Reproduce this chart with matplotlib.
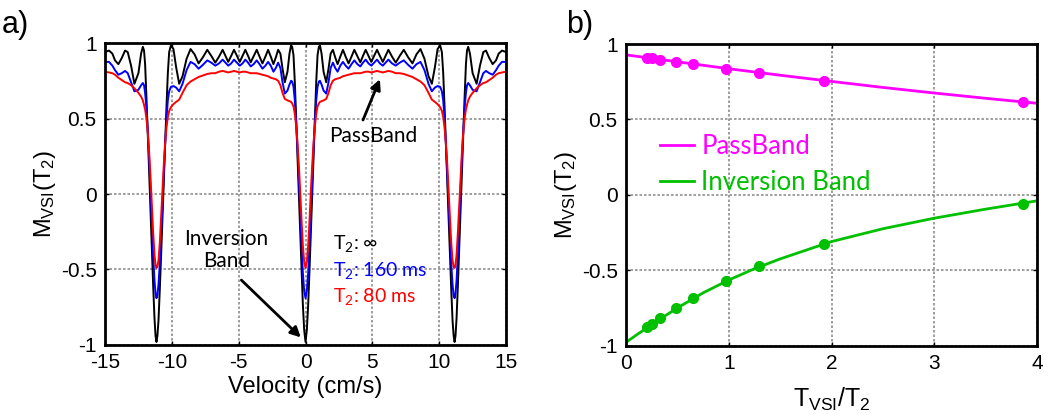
import numpy as np
import matplotlib
matplotlib.use("Agg")
import matplotlib.pyplot as plt

plt.rcParams['font.family'] = ['Liberation Sans', 'DejaVu Sans']
plt.rcParams['mathtext.default'] = 'regular'

# ---- panel a: velocity profiles (values for v >= 0, profile is even in v)
vel_half = [0.00, 0.10, 0.20, 0.30, 0.40, 0.50, 0.60, 0.70, 0.80, 0.90,
            1.00, 1.08, 1.20, 1.35, 1.55, 1.72, 1.88, 2.05, 2.22, 2.40,
            2.60, 2.80, 3.00, 3.22, 3.44, 3.65, 3.88, 4.10, 4.30, 4.50,
            4.71, 4.92, 5.13, 5.35, 5.56, 5.78, 5.99, 6.20, 6.47, 6.75,
            7.05, 7.35, 7.68, 8.00, 8.30, 8.60, 8.90, 9.20, 9.45, 9.68,
            9.88, 10.07, 10.20, 10.30, 10.40, 10.50, 10.60, 10.70, 10.80, 10.90,
            11.00, 11.08, 11.15, 11.22, 11.30, 11.40, 11.50, 11.60, 11.70, 11.80,
            11.90, 12.00, 12.08, 12.17, 12.30, 12.50, 12.80, 13.05, 13.30, 13.50,
            13.75, 14.00, 14.25, 14.45, 14.70, 15.00]

m_inf = [-0.98, -0.90, -0.73, -0.50, -0.25, 0.00, 0.24, 0.50, 0.74, 0.92,
         0.975, 0.985, 0.93, 0.81, 0.74, 0.83, 0.93, 0.955, 0.905, 0.86,
         0.91, 0.955, 0.91, 0.865, 0.91, 0.955, 0.912, 0.872, 0.915, 0.955,
         0.915, 0.875, 0.915, 0.955, 0.915, 0.875, 0.915, 0.955, 0.91, 0.87,
         0.915, 0.955, 0.905, 0.865, 0.925, 0.96, 0.895, 0.78, 0.73, 0.84,
         0.96, 0.985, 0.94, 0.80, 0.58, 0.34, 0.10, -0.15, -0.40, -0.63,
         -0.84, -0.94, -0.98, -0.94, -0.82, -0.60, -0.35, -0.10, 0.15, 0.40,
         0.64, 0.86, 0.95, 0.975, 0.93, 0.80, 0.73, 0.85, 0.94, 0.95,
         0.90, 0.86, 0.885, 0.93, 0.95, 0.94]

m_160 = [-0.69, -0.64, -0.52, -0.33, -0.12, 0.10, 0.30, 0.48, 0.62, 0.71,
         0.745, 0.75, 0.725, 0.685, 0.665, 0.74, 0.835, 0.87, 0.835, 0.81,
         0.85, 0.875, 0.85, 0.83, 0.86, 0.885, 0.86, 0.845, 0.87, 0.89,
         0.865, 0.85, 0.87, 0.89, 0.865, 0.85, 0.87, 0.89, 0.865, 0.85,
         0.87, 0.885, 0.855, 0.83, 0.86, 0.875, 0.82, 0.73, 0.68, 0.705,
         0.715, 0.71, 0.68, 0.62, 0.50, 0.33, 0.14, -0.07, -0.27, -0.46,
         -0.60, -0.67, -0.69, -0.66, -0.57, -0.40, -0.19, 0.03, 0.24, 0.42,
         0.57, 0.67, 0.72, 0.735, 0.72, 0.69, 0.68, 0.74, 0.80, 0.815,
         0.80, 0.79, 0.82, 0.85, 0.875, 0.875]

m_80 = [-0.49, -0.45, -0.34, -0.17, 0.02, 0.19, 0.34, 0.45, 0.53, 0.58,
        0.60, 0.61, 0.615, 0.62, 0.63, 0.67, 0.72, 0.75, 0.76, 0.765,
        0.77, 0.78, 0.785, 0.79, 0.795, 0.80, 0.80, 0.80, 0.805, 0.81,
        0.81, 0.805, 0.81, 0.815, 0.81, 0.805, 0.81, 0.815, 0.81, 0.80,
        0.80, 0.795, 0.785, 0.775, 0.76, 0.745, 0.72, 0.67, 0.625, 0.61,
        0.595, 0.575, 0.55, 0.51, 0.44, 0.34, 0.20, 0.03, -0.15, -0.32,
        -0.44, -0.48, -0.49, -0.47, -0.40, -0.25, -0.07, 0.12, 0.28, 0.41,
        0.50, 0.56, 0.59, 0.62, 0.645, 0.67, 0.70, 0.72, 0.735, 0.74,
        0.755, 0.77, 0.79, 0.80, 0.805, 0.81]

# ---- panel b: T_VSI/T2 dependence
ratio_pts = [0.20, 0.25, 0.33, 0.49, 0.65, 0.97, 1.29, 1.93, 3.86]
pass_pts = [0.910, 0.906, 0.895, 0.881, 0.866, 0.837, 0.806, 0.755, 0.618]
inv_pts = [-0.879, -0.857, -0.817, -0.751, -0.687, -0.574, -0.475, -0.323, -0.060]

pass_fit_x = [0, 0.5, 1, 1.5, 2, 2.5, 3, 3.5, 4]
pass_fit = [0.928, 0.882, 0.836, 0.793, 0.752, 0.712, 0.675, 0.640, 0.607]
inv_fit_x = [0, 0.1, 0.25, 0.5, 0.75, 1, 1.25, 1.5, 2, 2.5, 3, 3.5, 4]
inv_fit = [-0.978, -0.93, -0.86, -0.75, -0.65, -0.565, -0.49, -0.425, -0.31,
           -0.225, -0.155, -0.095, -0.04]

ANNOT = ['Lato', 'DejaVu Sans']


def style_axes(ax):
    for s in ax.spines.values():
        s.set_linewidth(2)
        s.set_color('black')
        s.set_zorder(5)
    ax.tick_params(direction='in', length=3, width=1, top=True, right=True,
                   labelsize=15, pad=6, colors='black')
    ax.set_axisbelow(True)
    ax.grid(True, which='major', color='#8e8e8e', linestyle=(0, (1.5, 1.2)),
            linewidth=1.2)


def arrow(ax, tail, head):
    ax.annotate('', xy=head, xytext=tail,
                arrowprops=dict(arrowstyle='-|>', color='black', lw=2,
                                mutation_scale=15, shrinkA=0, shrinkB=0))


fig = plt.figure(figsize=(10.49, 4.16), dpi=100)

# panel a
ax1 = fig.add_axes([0.1001, 0.1707, 0.3823, 0.7259])
v = np.array(vel_half)
vel = np.concatenate([-v[::-1], v[1:]])


def full(m):
    m = np.array(m)
    return np.concatenate([m[::-1], m[1:]])


ax1.plot(vel, full(m_inf), color='black', lw=1.4)
ax1.plot(vel, full(m_160), color='#0000ff', lw=1.4)
ax1.plot(vel, full(m_80), color='#ff0000', lw=1.4)
ax1.set_xlim(-15, 15)
ax1.set_ylim(-1, 1)
ax1.set_xticks([-15, -10, -5, 0, 5, 10, 15])
ax1.set_yticks([-1, -0.5, 0, 0.5, 1])
ax1.set_yticklabels(['-1', '-0.5', '0', '0.5', '1'])
ax1.set_xticklabels(['-15', '-10', '-5', '0', '5', '10', '15'])
style_axes(ax1)
ax1.set_xlabel('Velocity (cm/s)', fontsize=17, labelpad=3)
ax1.set_ylabel(r'M$_{VSI}$(T$_2$)', fontsize=17, labelpad=2)

ax1.text(5.1, 0.385, 'PassBand', fontsize=15, family=ANNOT,
         ha='center', va='center')
arrow(ax1, (4.3, 0.49), (5.56, 0.76))
ax1.text(-5.9, -0.37, 'Inversion\nBand', fontsize=15, family=ANNOT,
         ha='center', va='center', linespacing=1.15)
arrow(ax1, (-4.8, -0.57), (-0.35, -0.95))
ax1.text(2.05, -0.33, r'T$_2$: $\infty$', fontsize=14, family=ANNOT,
         color='black', va='center')
ax1.text(2.05, -0.505, r'T$_2$: 160 ms', fontsize=14, family=ANNOT,
         color='#0000ff', va='center')
ax1.text(2.05, -0.68, r'T$_2$: 80 ms', fontsize=14, family=ANNOT,
         color='#ff0000', va='center')

# panel b
ax2 = fig.add_axes([0.5968, 0.1692, 0.3918, 0.7250])
ax2.plot(pass_fit_x, pass_fit, color='#ff00ff', lw=2, label='PassBand')
ax2.plot(inv_fit_x, inv_fit, color='#00c000', lw=2, label='Inversion Band')
ax2.plot(ratio_pts, pass_pts, 'o', color='#ff00ff', ms=7)
ax2.plot(ratio_pts, inv_pts, 'o', color='#00c000', ms=7)
ax2.set_xlim(0, 4)
ax2.set_ylim(-1, 1)
ax2.set_xticks([0, 1, 2, 3, 4])
ax2.set_yticks([-1, -0.5, 0, 0.5, 1])
ax2.set_yticklabels(['-1', '-0.5', '0', '0.5', '1'])
style_axes(ax2)
ax2.set_xlabel(r'T$_{VSI}$/T$_2$', fontsize=18, labelpad=9)
ax2.set_ylabel(r'M$_{VSI}$(T$_2$)', fontsize=17, labelpad=2)
leg = ax2.legend(loc='upper left', bbox_to_anchor=(0.083, 0.70), frameon=False,
                 prop={'family': ANNOT, 'size': 18.5}, handlelength=1.3,
                 handletextpad=0.3, labelspacing=0.42, borderaxespad=0,
                 borderpad=0)
for txt, c in zip(leg.get_texts(), ['#ff00ff', '#00c000']):
    txt.set_color(c)

fig.text(0.002, 0.975, 'a)', fontsize=22, va='top', ha='left')
fig.text(0.540, 0.975, 'b)', fontsize=22, va='top', ha='left')

fig.savefig('out.png', dpi=100)
